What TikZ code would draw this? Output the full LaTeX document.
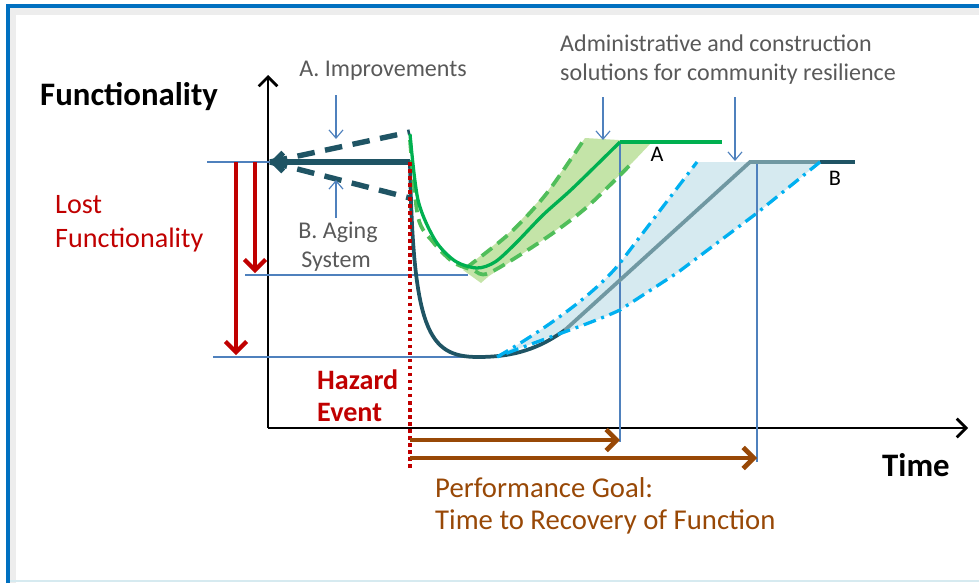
\documentclass[tikz,border=0pt]{standalone}
\usepackage{fontspec}
\setmainfont{Carlito}
\usepackage{tikz}
\usetikzlibrary{calc,arrows.meta}
\definecolor{frameblue}{RGB}{0,112,192}
\definecolor{darkteal}{RGB}{31,84,100}
\definecolor{greyteal}{RGB}{112,152,162}
\definecolor{lineblue}{RGB}{79,129,189}
\definecolor{hazardred}{RGB}{192,0,0}
\definecolor{goalbrown}{RGB}{152,72,6}
\definecolor{solidgreen}{RGB}{0,176,80}
\definecolor{dashgreen}{RGB}{80,190,90}
\definecolor{greenfill}{RGB}{196,228,168}
\definecolor{bluefill}{RGB}{214,234,240}
\definecolor{dashblue}{RGB}{0,176,240}
\definecolor{labelgrey}{RGB}{89,89,89}

\begin{document}
\begin{tikzpicture}[x=0.03cm,y=-0.03cm,
    thinblue/.style={draw=lineblue,line width=1pt},
    callout/.style={thinblue,-{Straight Barb[length=7pt,width=12pt]}},
    axisarrow/.style={line width=2.3pt,-{Straight Barb[length=8pt,width=16pt]}},
    redarrow/.style={hazardred,line width=3.6pt,-{Straight Barb[length=9pt,width=18pt]}},
    goalarrow/.style={goalbrown,line width=4pt,-{Straight Barb[length=9pt,width=18pt]}},
    greylabel/.style={text=labelgrey,font=\fontsize{20.5}{24}\selectfont,inner sep=0pt},
    boldlabel/.style={font=\fontsize{28}{32}\selectfont\bfseries,inner sep=0pt,anchor=west},
    dashdotblue/.style={dashblue,line width=2.8pt,dash pattern=on 11pt off 5pt on 2.5pt off 5pt}]
    \useasboundingbox (0,0) rectangle (979,583);
    % frame with a soft shadow
    \fill[black!7] (10,8) rectangle (979,15);
    \fill[black!7] (10,8) rectangle (16,583);
    \draw[frameblue,line width=3.4pt] (8,583) -- (8,6) -- (979,6);
    \draw[bluefill,line width=1pt] (10,581) -- (979,581);

    % shaded recovery bands
    \fill[greenfill] (463,270) -- (510,232) -- (547,192) -- (585,138) -- (652,142)
        -- (633,162) -- (587,207) -- (543,240) -- (489,276) -- (481,283) -- cycle;
    \fill[bluefill] (497,357) .. controls (530,338) and (590,300) .. (620,263)
        -- (697,162) -- (820,162) -- (757,213) -- (677,273) -- (620,310)
        .. controls (590,324) and (540,340) .. (497,357) -- cycle;

    % axes
    \coordinate (origin) at (268,428);
    \coordinate (ytop) at (268,75);
    \coordinate (xend) at (968,428);
    \draw[axisarrow] (origin) -- (ytop);
    \draw[axisarrow] (origin) -- (xend);
    \node[boldlabel] (funclabel) at (40,97) {Functionality};
    \node[boldlabel] (timelabel) at (882,465) {Time};

    % level lines
    \draw[thinblue] (207,162) -- (278,162);
    \draw[thinblue] (245,275) -- (468,275);
    \draw[thinblue] (213,357) -- (473,357);
    \draw[thinblue] (620,142) -- (620,442);
    \draw[thinblue] (757,162) -- (757,462);

    % lost functionality
    \draw[redarrow] (236,162) -- (236,355);
    \draw[redarrow] (255,162) -- (255,273);
    \node[text=hazardred,font=\fontsize{24}{28}\selectfont,inner sep=0pt,anchor=west] (lost) at (55,205) {Lost};
    \node[text=hazardred,font=\fontsize{24}{28}\selectfont,inner sep=0pt,anchor=west] (lostfunc) at (55,240) {Functionality};

    % system before the hazard
    \coordinate (hazard) at (410,162);
    \draw[darkteal,line width=4.6pt,{Straight Barb[length=8pt,width=16pt]}-] (270,162) -- (hazard);
    \draw[darkteal,line width=4.6pt,dash pattern=on 15pt off 9pt] (270,162) -- (410,132);
    \draw[darkteal,line width=4.6pt,dash pattern=on 15pt off 9pt] (270,162) -- (410,198);

    % recovery B
    \draw[darkteal,line width=3.2pt] (hazard) .. controls (413,330) and (428,357) .. (478,357)
        .. controls (515,357) and (540,348) .. (565,330);
    \draw[greyteal,line width=3.2pt] (565,330) -- (750,162) -- (820,162);
    \draw[darkteal,line width=4pt] (820,162) -- (855,162);
    \draw[dashdotblue] (497,357) .. controls (530,338) and (590,300) .. (620,263) -- (697,162);
    \draw[dashdotblue] (820,162) -- (757,213) -- (677,273) -- (620,310)
        .. controls (590,324) and (540,340) .. (497,357);

    % recovery A
    \draw[dashgreen,line width=3.2pt,dash pattern=on 11pt off 6pt] plot[smooth] coordinates
        {(410,140) (418,217) (433,242) (453,262) (473,270) (489,273) (543,240) (587,207) (633,162)};
    \draw[dashgreen,line width=3.2pt,dash pattern=on 11pt off 6pt] plot[smooth] coordinates
        {(466,268) (510,233) (547,193) (585,138)};
    \draw[solidgreen,line width=2.8pt] plot[smooth] coordinates
        {(410,134) (418,200) (435,240) (455,261) (477,268) (495,262) (515,244) (543,215) (573,188) (620,142)};
    \draw[solidgreen,line width=4pt] (620,142) -- (722,142);
    \node[font=\fontsize{19}{21}\selectfont,inner sep=0pt] (reca) at (657,154) {A};
    \node[font=\fontsize{19}{21}\selectfont,inner sep=0pt] (recb) at (835,178) {B};

    % hazard event
    \draw[hazardred,line width=3.4pt,dash pattern=on 3pt off 3pt] (hazard) -- (410,470);
    \node[text=hazardred,font=\fontsize{24}{28}\selectfont\bfseries,inner sep=0pt,anchor=west] (hazlabel) at (317,380) {Hazard};
    \node[text=hazardred,font=\fontsize{24}{28}\selectfont\bfseries,inner sep=0pt,anchor=west] (evtlabel) at (317,412) {Event};

    % callouts
    \node[greylabel] (improve) at (383,71) {A. Improvements};
    \node[greylabel] (aging) at (338,232) {B. Aging};
    \node[greylabel] (system) at (336,262) {System};
    \node[greylabel,anchor=west] (admin) at (560,43) {Administrative and construction};
    \node[greylabel,anchor=west] (solutions) at (560,74) {solutions for community resilience};
    \draw[callout] (336,95) -- (336,139);
    \draw[callout] (336,218) -- (336,180);
    \draw[callout] (603,97) -- (603,140);
    \draw[callout] (735,97) -- (735,161);

    % performance goal
    \draw[goalarrow] (410,440) -- (620,440);
    \draw[goalarrow] (410,458) -- (757,458);
    \node[text=goalbrown,font=\fontsize{24.5}{28}\selectfont,inner sep=0pt,anchor=west] (goal) at (435,488) {Performance Goal:};
    \node[text=goalbrown,font=\fontsize{24.5}{28}\selectfont,inner sep=0pt,anchor=west] (goaltime) at (435,522) {Time to Recovery of Function};
\end{tikzpicture}
\end{document}
